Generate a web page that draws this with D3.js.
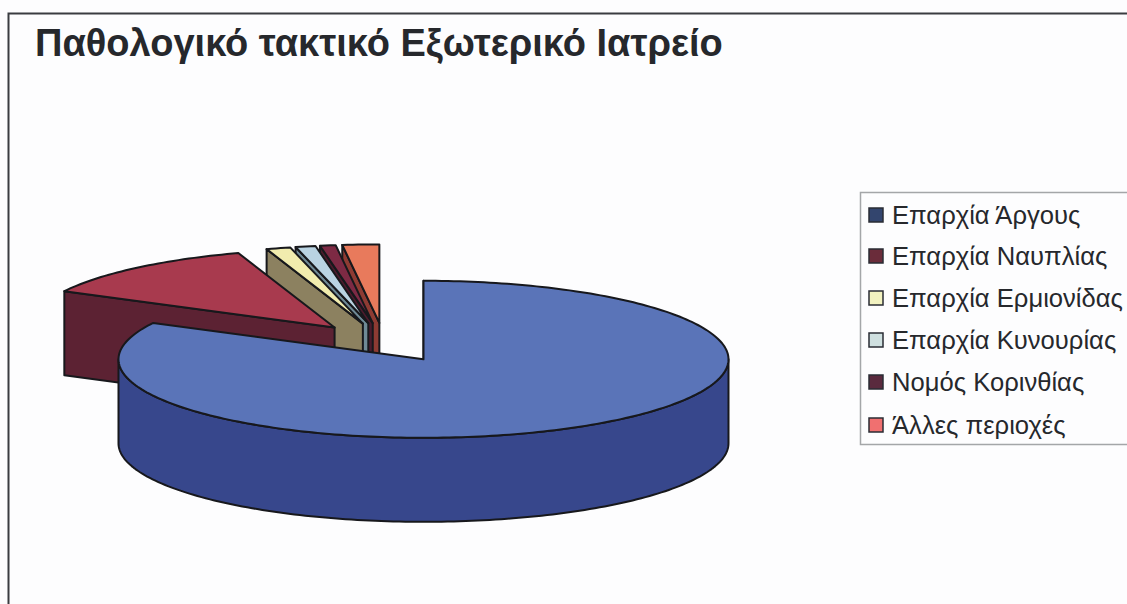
<!DOCTYPE html>
<html lang="el">
<head>
<meta charset="utf-8">
<script src="https://cdn.jsdelivr.net/npm/d3@7/dist/d3.min.js"></script>
<style>
html,body{margin:0;padding:0;background:#fdfdfe;overflow:hidden}
svg{display:block}
text{font-family:"Liberation Sans",Arial,sans-serif;fill:#26282c}
</style>
</head>
<body>
<svg id="chart" width="1127" height="604"></svg>
<script>
// Chart content
const chartTitle = "Παθολογικό τακτικό Εξωτερικό Ιατρείο";
const categories = ["Επαρχία Άργους","Επαρχία Ναυπλίας","Επαρχία Ερμιονίδας","Επαρχία Κυνουρίας","Νομός Κορινθίας","Άλλες περιοχές"];
const shares = [82.67, 12.22, 1.28, 1.06, 0.83, 1.94];
const topColours = ["#5a74b8","#a83a4e","#f1ecae","#b9d3e2","#7d2a44","#e87a5c"];
const wallColours = ["#37478c","#5c2233","#8c8160","#6f8a96","#4c1b2c","#8e3b33"];
const swatchColours = ["#33456e","#6a2c3a","#f2f2c0","#cfe0e0","#5a2a3e","#f07070"];

// Pie projection: an ellipse with a fixed extrusion depth
const svg = d3.select("#chart");
const cx = 384, cy = 342.5, rx = 305, ry = 78.5, depth = 84, explode = 0.25;

const pie = d3.pie().sort(null).value(d => d.share);
const slices = pie(categories.map((name, i) => ({name, share: shares[i], i})));

const colourTop = d3.scaleOrdinal().domain(categories).range(topColours);
const colourWall = d3.scaleOrdinal().domain(categories).range(wallColours);
const colourSwatch = d3.scaleOrdinal().domain(categories).range(swatchColours);

// Screen position of angle t on the rim around a given apex
const project = (apex, t, dy = 0) => [apex[0] + rx * Math.sin(t), apex[1] - ry * Math.cos(t) + dy];

// Every slice is pulled out along its own mid angle
const apexOf = s => {
  const mid = (s.startAngle + s.endAngle) / 2;
  return [cx + explode * rx * Math.sin(mid), cy - explode * ry * Math.cos(mid)];
};

const line = d3.line();
const arcPoints = (apex, a0, a1, dy = 0) => {
  const n = Math.max(2, Math.ceil(Math.abs(a1 - a0) / 0.02));
  return d3.range(n + 1).map(k => project(apex, a0 + (a1 - a0) * k / n, dy));
};

const topFace = s => {
  const a = apexOf(s);
  return line([a, ...arcPoints(a, s.startAngle, s.endAngle)]) + "Z";
};
// Cut face on the slice's leading radius
const cutFace = s => {
  const a = apexOf(s), p = project(a, s.startAngle);
  return line([a, p, [p[0], p[1] + depth], [a[0], a[1] + depth]]) + "Z";
};
// Rim facing the viewer, only where the arc runs through the front half
const rimFace = s => {
  const a = apexOf(s);
  const a0 = Math.max(s.startAngle, Math.PI / 2), a1 = Math.min(s.endAngle, 3 * Math.PI / 2);
  if (a1 <= a0) return null;
  return line([...arcPoints(a, a0, a1), ...arcPoints(a, a1, a0, depth)]) + "Z";
};

// Frame around the chart
svg.append("path")
  .attr("d", "M8.5 604V13.5H1127")
  .attr("fill", "none").attr("stroke", "#3a3c40").attr("stroke-width", 2);

svg.append("text")
  .attr("x", 35).attr("y", 56)
  .attr("font-size", 38).attr("font-weight", 700)
  .text(chartTitle);

// Paint from the back slices to the front, the large slice last
const order = [5, 4, 3, 2, 1, 0].map(i => slices[i]);
const groups = svg.append("g").attr("stroke", "#17181c").attr("stroke-width", 2).attr("stroke-linejoin", "round")
  .selectAll("g").data(order).join("g");

groups.append("path")
  .attr("d", cutFace)
  .attr("fill", d => colourWall(d.data.name));
groups.filter(d => rimFace(d) !== null).append("path")
  .attr("d", rimFace)
  .attr("fill", d => colourWall(d.data.name));
groups.append("path")
  .attr("d", topFace)
  .attr("fill", d => colourTop(d.data.name));

// Legend
const legend = svg.append("g");
legend.append("path")
  .attr("d", "M1127 192.5H860.5V444.5H1127")
  .attr("fill", "#fdfdfe").attr("stroke", "#a4a6a8").attr("stroke-width", 1.5);

const rowCentres = [215, 256, 298, 340, 382, 425];
const rowY = d3.scaleOrdinal().domain(categories).range(rowCentres);
const rows = legend.selectAll("g").data(categories).join("g")
  .attr("transform", d => `translate(0,${rowY(d)})`);
rows.append("rect")
  .attr("x", 869).attr("y", -7).attr("width", 14).attr("height", 14)
  .attr("fill", d => colourSwatch(d))
  .attr("stroke", "#2a2c34").attr("stroke-width", 1.5);
rows.append("text")
  .attr("x", 892).attr("y", 9)
  .attr("font-size", 25.6)
  .text(d => d);
</script>
</body>
</html>
